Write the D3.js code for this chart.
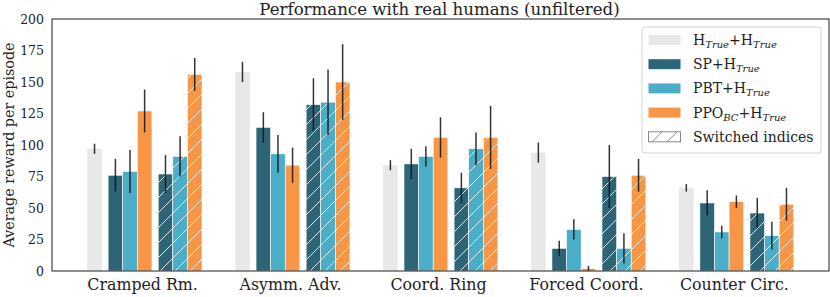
<!DOCTYPE html>
<html>
<head>
<meta charset="utf-8">
<script src="https://cdn.jsdelivr.net/npm/d3@7"></script>
<style>
  body { margin: 0; background: #fff; }
  svg text { font-family: "DejaVu Serif", serif; fill: #222; }
</style>
</head>
<body>
<div id="chart"></div>
<script>
var W = 830, H = 297;
var margin = {top: 19, right: 1, bottom: 26, left: 52},
    width = W - margin.left - margin.right,
    height = H - margin.top - margin.bottom;

// data
var groups = ["Cramped Rm.", "Asymm. Adv.", "Coord. Ring", "Forced Coord.", "Counter Circ."];
var hh     = [97, 158, 84, 94, 66],   hhErr     = [4, 8, 4, 8, 3];
var sp     = [76, 114, 85, 18, 54],   spErr     = [13, 12, 12, 6, 10];
var pbt    = [79, 93, 91, 33, 31],    pbtErr    = [17, 15, 8, 8, 5];
var ppo    = [127, 84, 106, 2, 55],   ppoErr    = [17, 14, 16, 2, 5];
var spSw   = [77, 132, 66, 75, 46],   spSwErr   = [15, 21, 12, 25, 12];
var pbtSw  = [91, 134, 97, 18, 28],   pbtSwErr  = [16, 26, 13, 12, 11];
var ppoSw  = [156, 150, 106, 76, 53], ppoSwErr  = [13, 30, 25, 13, 13];
var yTicks = [0, 25, 50, 75, 100, 125, 150, 175, 200];

var cGray = "#e8e8e8", cSP = "#2e6576", cPBT = "#4badc7", cPPO = "#f79646";

// series: values, errors, colour, slot index, gaps before, hatched
var series = [
  {v: hh,    e: hhErr,    c: cGray, slot: 0, gaps: 0, hatch: false},
  {v: sp,    e: spErr,    c: cSP,   slot: 1, gaps: 1, hatch: false},
  {v: pbt,   e: pbtErr,   c: cPBT,  slot: 2, gaps: 1, hatch: false},
  {v: ppo,   e: ppoErr,   c: cPPO,  slot: 3, gaps: 1, hatch: false},
  {v: spSw,  e: spSwErr,  c: cSP,   slot: 4, gaps: 2, hatch: true},
  {v: pbtSw, e: pbtSwErr, c: cPBT,  slot: 5, gaps: 2, hatch: true},
  {v: ppoSw, e: ppoSwErr, c: cPPO,  slot: 6, gaps: 2, hatch: true}
];
var gap = 0.43, nSlots = 7 + 2 * gap;

var svg = d3.select("#chart").append("svg")
    .attr("width", W).attr("height", H);

var defs = svg.append("defs");
var pat = defs.append("pattern")
    .attr("id", "hatch").attr("patternUnits", "userSpaceOnUse")
    .attr("width", 15).attr("height", 15);
pat.append("path").attr("d", "M-1,16 L16,-1 M-4,4 L4,-4 M11,19 L19,11")
    .attr("stroke", "#fff").attr("stroke-width", 1).attr("opacity", 0.85);
var patL = defs.append("pattern")
    .attr("id", "hatchLegend").attr("patternUnits", "userSpaceOnUse")
    .attr("width", 15).attr("height", 15);
patL.append("path").attr("d", "M-1,16 L16,-1 M-4,4 L4,-4 M11,19 L19,11")
    .attr("stroke", "#888").attr("stroke-width", 1);

var g = svg.append("g")
    .attr("transform", "translate(" + margin.left + "," + margin.top + ")");

var x0 = d3.scaleBand().domain(groups).range([0, width]).paddingOuter(0.126).paddingInner(0);
var barW = x0.bandwidth() * 0.0987;
var xs = d3.scaleLinear().domain([0, nSlots]).range([-nSlots * barW / 2, nSlots * barW / 2]);
var y = d3.scaleLinear().domain([0, 200]).range([height, 0]);

// bars
series.forEach(function(s, si) {
  var off = s.slot + s.gaps * gap;
  var bars = g.selectAll("rect.s" + si).data(groups).enter();
  bars.append("rect")
    .attr("class", "s" + si)
    .attr("x", function(d) { return x0(d) + x0.bandwidth() / 2 + xs(off); })
    .attr("y", function(d, i) { return y(s.v[i]); })
    .attr("width", barW)
    .attr("height", function(d, i) { return y(0) - y(s.v[i]); })
    .attr("fill", s.c)
    .attr("stroke", si > 0 ? "#fff" : "none")
    .attr("stroke-width", 0.6);
  if (s.hatch) {
    bars.append("rect")
      .attr("x", function(d) { return x0(d) + x0.bandwidth() / 2 + xs(off); })
      .attr("y", function(d, i) { return y(s.v[i]); })
      .attr("width", barW)
      .attr("height", function(d, i) { return y(0) - y(s.v[i]); })
      .attr("fill", "url(#hatch)");
  }
  g.selectAll("line.e" + si).data(groups).enter().append("line")
    .attr("class", "e" + si)
    .attr("x1", function(d) { return x0(d) + x0.bandwidth() / 2 + xs(off + 0.5); })
    .attr("x2", function(d) { return x0(d) + x0.bandwidth() / 2 + xs(off + 0.5); })
    .attr("y1", function(d, i) { return y(Math.max(0, s.v[i] - s.e[i])); })
    .attr("y2", function(d, i) { return y(s.v[i] + s.e[i]); })
    .attr("stroke", "#111").attr("stroke-width", 1.5).attr("opacity", 0.85);
});

// axes
var yAxis = g.append("g")
    .call(d3.axisLeft(y).tickValues(yTicks).tickSize(0).tickPadding(8));
yAxis.select(".domain").remove();
yAxis.selectAll("text").style("font-size", "12.5px").style("font-family", "DejaVu Serif, serif").attr("fill", "#222");

var xAxis = g.append("g")
    .attr("transform", "translate(0," + height + ")")
    .call(d3.axisBottom(x0).tickSize(0).tickPadding(8));
xAxis.select(".domain").remove();
xAxis.selectAll("text").style("font-size", "15.8px").style("font-family", "DejaVu Serif, serif")
  .attr("fill", "#222").attr("dx", -2);

// frame
g.append("rect").attr("x", 0).attr("y", 0).attr("width", width).attr("height", height)
  .attr("fill", "none").attr("stroke", "#333").attr("stroke-width", 1.1);

// titles
svg.append("text").attr("x", margin.left + width / 2 - 1).attr("y", 14.5)
  .attr("text-anchor", "middle").style("font-size", "16.6px")
  .text("Performance with real humans (unfiltered)");
svg.append("text")
  .attr("transform", "translate(14," + (margin.top + height / 2) + ") rotate(-90)")
  .attr("text-anchor", "middle").style("font-size", "14.3px")
  .text("Average reward per episode");

// legend
var legendItems = [
  {parts: [["H", 0], ["True", 1], ["+H", 0], ["True", 1]], c: cGray, hatch: false},
  {parts: [["SP+H", 0], ["True", 1]], c: cSP, hatch: false},
  {parts: [["PBT+H", 0], ["True", 1]], c: cPBT, hatch: false},
  {parts: [["PPO", 0], ["BC", 1], ["+H", 0], ["True", 1]], c: cPPO, hatch: false},
  {parts: [["Switched indices", 0]], c: "#fff", hatch: true}
];
var lg = svg.append("g").attr("transform", "translate(642,27)");
lg.append("rect").attr("width", 179).attr("height", 126).attr("rx", 3)
  .attr("fill", "#fff").attr("fill-opacity", 0.85).attr("stroke", "#d4d4d4");
legendItems.forEach(function(it, i) {
  var row = lg.append("g").attr("transform", "translate(0," + (13 + i * 24.2) + ")");
  row.append("rect").attr("x", 6.5).attr("y", -5).attr("width", 32).attr("height", 10)
    .attr("fill", it.hatch ? "url(#hatchLegend)" : it.c)
    .attr("stroke", it.hatch ? "#888" : "none");
  var t = row.append("text").attr("x", 51).attr("y", 5).style("font-size", "14px");
  var prevSub = false;
  it.parts.forEach(function(p) {
    var sub = p[1] === 1;
    var ts = t.append("tspan").text(p[0])
      .attr("dy", sub && !prevSub ? 3 : (!sub && prevSub ? -3 : 0));
    if (sub) ts.style("font-size", "10px").style("font-style", "italic");
    prevSub = sub;
  });
});
</script>
</body>
</html>
